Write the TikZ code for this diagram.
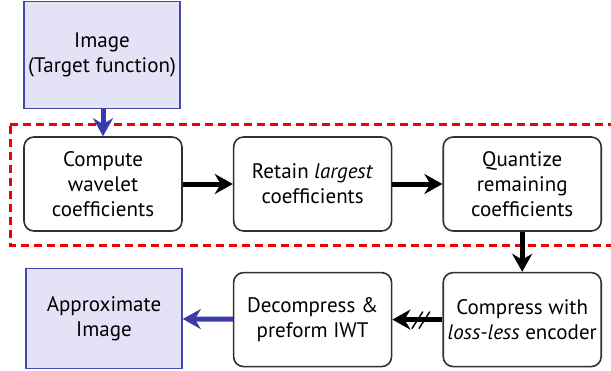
\documentclass[tikz,border=0pt]{standalone}
\usepackage{fontspec}
\setmainfont{PT Sans}
\usepackage{tikz}
\usetikzlibrary{positioning,arrows.meta,calc}
\definecolor{ink}{HTML}{303030}
\definecolor{lav}{HTML}{E4E2F6}
\definecolor{lavedge}{HTML}{4646B0}
\definecolor{flowblue}{HTML}{3A3AAA}
\definecolor{dashred}{HTML}{F00000}

\tikzset{
  procbox/.style={draw=ink,line width=0.8pt,rounded corners=5pt,minimum width=79pt,minimum height=47pt,align=center,inner sep=2pt},
  termbox/.style={draw=lavedge,fill=lav,line width=0.8pt,minimum width=78pt,align=center,inner sep=2pt},
  flow/.style={line width=2.5pt,-{Stealth[length=9pt,width=10pt]}},
  blueflow/.style={flow,flowblue}
}

\begin{document}
\begin{tikzpicture}[font=\fontsize{10.5}{12.5}\selectfont, x=1pt, y=1pt]
\useasboundingbox (0,0) rectangle (305.5,-185);
% top row of processing steps
\node[procbox] (compute) at (51.5,-92) {Compute\\wavelet\\coefficients};
\node[procbox,right=25pt of compute] (retain) {Retain \textit{largest}\\coefficients};
\node[procbox,right=25pt of retain] (quant) {Quantize\\remaining\\coefficients};
% bottom row, runs right to left
\node[procbox,below=20pt of quant] (compress) {Compress with\\\textit{loss-less} encoder};
\node[procbox,left=25pt of compress] (decomp) {Decompress \&\\preform IWT};
\node[termbox,minimum height=50pt,left=25pt of decomp,yshift=0.5pt] (approx) {Approximate\\Image};
% input image
\node[termbox,minimum height=53.5pt,above=13.5pt of compute,xshift=-0.5pt] (image) {Image\\(Target function)};
% lossy part of the pipeline
\draw[dashred,line width=1.5pt,dash pattern=on 4pt off 2.5pt] (5,-62) -- (307,-62) (307,-122.5) -- (5,-122.5) -- (5,-62);
% connectors
\draw[blueflow] (image.south -| compute.north) -- (compute.north);
\draw[flow] (compute) -- (retain);
\draw[flow] (retain) -- (quant);
\draw[flow] (quant) -- (compress);
\draw[flow] (compress) -- coordinate[pos=0.45] (cut) (decomp);
\draw[line width=0.7pt] ($(cut)+(-4,-4.5)$) -- ($(cut)+(1.5,4)$) ($(cut)+(-0.5,-4.5)$) -- ($(cut)+(5,4)$);
\draw[blueflow] (decomp) -- (approx);
\end{tikzpicture}
\end{document}
